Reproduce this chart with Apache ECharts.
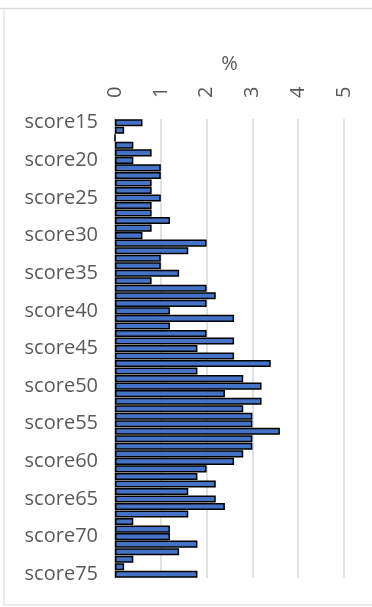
<!DOCTYPE html>
<html>
<head>
<meta charset="utf-8">
<script src="https://cdn.jsdelivr.net/npm/echarts@6/dist/echarts.min.js"></script>
<style>
html,body{margin:0;padding:0;background:#fff;}
#c{width:372px;height:607px;}
</style>
</head>
<body>
<div id="c"></div>
<script>
const categories = ['score15','score16','score17','score18','score19','score20','score21','score22','score23','score24',
  'score25','score26','score27','score28','score29','score30','score31','score32','score33','score34',
  'score35','score36','score37','score38','score39','score40','score41','score42','score43','score44',
  'score45','score46','score47','score48','score49','score50','score51','score52','score53','score54',
  'score55','score56','score57','score58','score59','score60','score61','score62','score63','score64',
  'score65','score66','score67','score68','score69','score70','score71','score72','score73','score74','score75'];
const values = [0.6,0.2,0,0.4,0.8,0.4,1.0,1.0,0.8,0.8,
  1.0,0.8,0.8,1.2,0.8,0.6,2.0,1.6,1.0,1.0,
  1.4,0.8,2.0,2.2,2.0,1.2,2.6,1.2,2.0,2.6,
  1.8,2.6,3.4,1.8,2.8,3.2,2.4,3.2,2.8,3.0,
  3.0,3.6,3.0,3.0,2.8,2.6,2.0,1.8,2.2,1.6,
  2.2,2.4,1.6,0.4,1.2,1.2,1.8,1.4,0.4,0.2,1.8];
const valueTicks = ['0','1','2','3','4','5'];
const axisTitle = '%';

const FONT = 'Open Sans';
const chart = echarts.init(document.getElementById('c'), null, {renderer:'canvas'});
chart.setOption({
  animation: false,
  backgroundColor: '#fff',
  graphic: [
    {type:'line', shape:{x1:0,y1:8.5,x2:372,y2:8.5}, style:{stroke:'#d9d9d9', lineWidth:1.5}},
    {type:'line', shape:{x1:4,y1:9,x2:4,y2:605}, style:{stroke:'#d9d9d9', lineWidth:1}},
    {type:'line', shape:{x1:4,y1:605,x2:372,y2:605}, style:{stroke:'#d9d9d9', lineWidth:1}}
  ],
  grid: {left:115, right:28, top:119, bottom:29, containLabel:false},
  xAxis: {
    type:'value', position:'top', min:0, max:5, interval:1,
    name: axisTitle, nameLocation:'middle', nameGap:45,
    nameTextStyle:{fontFamily:FONT, fontSize:20, color:'#595959'},
    axisLine:{show:false}, axisTick:{show:false},
    splitLine:{show:true, lineStyle:{color:'#d9d9d9', width:1.5}},
    axisLabel:{rotate:-90, margin:21, fontFamily:FONT, fontSize:20, color:'#595959',
      formatter:(v)=>valueTicks[Math.round(v)]}
  },
  yAxis: {
    type:'category', data:categories, inverse:true,
    axisLine:{show:true, lineStyle:{color:'#bfbfbf', width:1.5}},
    axisTick:{show:false},
    axisLabel:{interval:4, margin:17, fontFamily:FONT, fontSize:20, color:'#595959'}
  },
  series: [{
    type:'bar', data:values, barCategoryGap:'6%',
    itemStyle:{color:'#4472C4', borderColor:'#000', borderWidth:1.5}
  }]
});
</script>
</body>
</html>
